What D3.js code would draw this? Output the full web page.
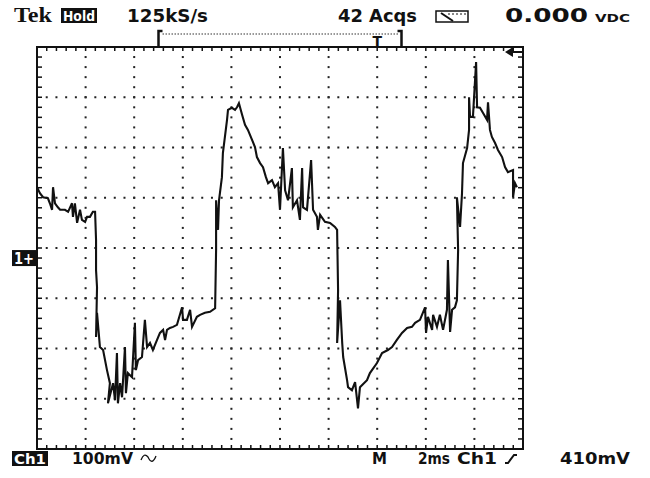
<!DOCTYPE html>
<html>

<style>
    body {
        margin: 0;
        background: #fff;
    }

    text {
        font-family: "DejaVu Sans", sans-serif;
        font-weight: bold;
        fill: #111;
    }

    text.inv {
        fill: #fff;
    }
</style>

<body>
    <svg id='viz' width='650' height='478'></svg>

<script src="https://cdnjs.cloudflare.com/ajax/libs/d3/7.8.5/d3.min.js"></script>

<script>
    // screen settings: 2 ms/div, 100 mV/div, trigger at t = 0
    var timeDomain = [-14, 6];      // ms
    var voltDomain = [-380, 420];   // mV, relative to ch1 ground
    var triggerLevel = 410;         // mV
    var recordWindow = [-9, 1];     // ms, bracket at the top

    var headerLabels = ['125kS/s', '42 Acqs', '0.000', 'VDC'];
    var footerLabels = ['100mV', 'M', '2ms', 'Ch1', '410mV'];

    // acquired trace [time ms, mV]
    var trace = [
        [-14.00, 141], [-13.88, 129], [-13.75, 121], [-13.55, 119], [-13.47, 109], [-13.38, 96],
        [-13.34, 141], [-13.26, 109], [-13.14, 101], [-13.05, 96], [-12.85, 96], [-12.72, 92],
        [-12.56, 109], [-12.52, 82], [-12.44, 109], [-12.35, 70], [-12.23, 96], [-12.15, 76],
        [-12.02, 72], [-11.94, 82], [-11.82, 82], [-11.70, 92], [-11.61, 92], [-11.57, 36],
        [-11.57, -24], [-11.53, -58], [-11.57, -157], [-11.53, -109], [-11.41, -177], [-11.28, -183],
        [-11.12, -223], [-11.00, -249], [-11.08, -289], [-10.87, -249], [-10.79, -283], [-10.71, -189],
        [-10.67, -289], [-10.58, -249], [-10.50, -277], [-10.38, -177], [-10.34, -269], [-10.26, -229],
        [-10.09, -237], [-9.97, -129], [-9.93, -223], [-9.84, -203], [-9.68, -197], [-9.56, -123],
        [-9.47, -177], [-9.35, -169], [-9.23, -183], [-9.06, -163], [-8.94, -149], [-8.81, -143],
        [-8.73, -163], [-8.65, -143], [-8.53, -139], [-8.40, -137], [-8.24, -133], [-8.03, -98],
        [-7.99, -123], [-7.83, -123], [-7.70, -103], [-7.62, -137], [-7.42, -117], [-7.29, -113],
        [-7.09, -109], [-6.88, -107], [-6.67, -100], [-6.63, 16], [-6.63, 115], [-6.55, 56],
        [-6.51, 115], [-6.39, 161], [-6.35, 209], [-6.18, 275], [-6.14, 295], [-5.98, 299],
        [-5.85, 295], [-5.77, 300], [-5.69, 308], [-5.56, 285], [-5.44, 265], [-5.32, 255],
        [-5.15, 235], [-5.03, 221], [-4.95, 201], [-4.82, 189], [-4.70, 181], [-4.58, 161],
        [-4.49, 149], [-4.33, 155], [-4.21, 141], [-4.08, 149], [-4.00, 96], [-3.88, 219],
        [-3.79, 135], [-3.67, 115], [-3.51, 179], [-3.47, 101], [-3.30, 115], [-3.18, 76],
        [-3.09, 179], [-3.05, 101], [-2.89, 96], [-2.72, 195], [-2.64, 96], [-2.48, 82],
        [-2.44, 56], [-2.35, 86], [-2.15, 72], [-1.94, 70], [-1.74, 62], [-1.65, 56],
        [-1.61, -64], [-1.65, -169], [-1.53, -84], [-1.44, -169], [-1.40, -197], [-1.24, -243],
        [-1.20, -257], [-1.04, -263], [-0.91, -247], [-0.79, -299], [-0.71, -257], [-0.42, -243],
        [-0.30, -229], [-0.01, -209], [0.20, -189], [0.44, -183], [0.61, -177], [0.81, -163],
        [1.02, -149], [1.23, -139], [1.43, -137], [1.56, -129], [1.76, -123], [1.97, -98],
        [2.01, -149], [2.09, -117], [2.26, -143], [2.30, -113], [2.46, -137], [2.58, -113],
        [2.71, -143], [2.87, -103], [2.91, -4], [3.00, -147], [3.08, -103], [3.20, -98],
        [3.28, -84], [3.33, 16], [3.28, 121], [3.41, 62], [3.49, 129], [3.53, 189],
        [3.70, 219], [3.78, 255], [3.78, 320], [3.82, 281], [3.94, 281], [4.07, 390],
        [4.11, 300], [4.23, 299], [4.35, 289], [4.52, 275], [4.56, 310], [4.64, 255],
        [4.72, 241], [4.85, 229], [4.97, 215], [5.14, 201], [5.26, 181], [5.38, 171],
        [5.59, 175], [5.59, 121], [5.67, 149], [5.75, 141]
    ];

    var svg = d3.select('#viz');

    var x = d3.scaleLinear().domain(timeDomain).range([37, 523]);
    var y = d3.scaleLinear().domain(voltDomain).range([449, 47]);

    var minorT = d3.range(1, 50).map(function(i) { return timeDomain[0] + i * 0.4; });
    var minorV = d3.range(1, 40).map(function(i) { return voltDomain[0] + i * 20; });
    var majorT = d3.range(-12, 5, 2);
    var majorV = d3.range(-280, 400, 100);

    // dotted graticule
    var grid = svg.append('g').attr('fill', '#222');
    majorV.forEach(function(v) {
        grid.selectAll(null).data(minorT).enter()
            .append('rect')
            .attr('x', function(t) { return x(t) - 1; })
            .attr('y', y(v) - 1)
            .attr('width', 2).attr('height', 2);
    });
    majorT.forEach(function(t) {
        grid.selectAll(null).data(minorV).enter()
            .append('rect')
            .attr('x', x(t) - 1)
            .attr('y', function(v) { return y(v) - 1; })
            .attr('width', 2).attr('height', 2);
    });

    // frame + minor ticks on each edge
    svg.append('rect')
        .attr('x', x(timeDomain[0])).attr('y', y(voltDomain[1]))
        .attr('width', x(timeDomain[1]) - x(timeDomain[0]))
        .attr('height', y(voltDomain[0]) - y(voltDomain[1]))
        .attr('fill', 'none').attr('stroke', '#111').attr('stroke-width', 2);

    var ticks = svg.append('g').attr('stroke', '#111').attr('stroke-width', 1.5);
    minorT.forEach(function(t) {
        ticks.append('line').attr('x1', x(t)).attr('x2', x(t)).attr('y1', 47).attr('y2', 51);
        ticks.append('line').attr('x1', x(t)).attr('x2', x(t)).attr('y1', 449).attr('y2', 445);
    });
    minorV.forEach(function(v) {
        ticks.append('line').attr('y1', y(v)).attr('y2', y(v)).attr('x1', 37).attr('x2', 42);
        ticks.append('line').attr('y1', y(v)).attr('y2', y(v)).attr('x1', 523).attr('x2', 518);
    });

    // the trace
    var line = d3.line()
        .x(function(d) { return x(d[0]); })
        .y(function(d) { return y(d[1]); });

    svg.append('path')
        .datum(trace)
        .attr('d', line)
        .attr('fill', 'none')
        .attr('stroke', '#111')
        .attr('stroke-width', 2.1)
        .attr('stroke-linejoin', 'miter');

    // record window bracket with trigger "T"
    var bx0 = x(recordWindow[0]), bx1 = x(recordWindow[1]);
    svg.append('path')
        .attr('d', 'M' + (bx0 + 4) + ',31 H' + bx0 + ' V46 M' + (bx1 - 4) + ',31 H' + bx1 + ' V46')
        .attr('fill', 'none').attr('stroke', '#111').attr('stroke-width', 2.5);
    svg.append('line')
        .attr('x1', bx0 + 4).attr('x2', bx1 - 3).attr('y1', 34).attr('y2', 34)
        .attr('stroke', '#333').attr('stroke-width', 1).attr('stroke-dasharray', '1.5,1.5');
    svg.append('text').attr('x', x(0)).attr('y', 46)
        .attr('text-anchor', 'middle').style('font-size', '14px').text('T');

    // trigger level arrow on the right edge
    var ty = y(triggerLevel);
    svg.append('path')
        .attr('d', 'M505,' + ty + ' L513,' + (ty - 5) + ' L513,' + (ty + 5) + ' Z')
        .attr('fill', '#111');
    svg.append('line').attr('x1', 512).attr('x2', 523).attr('y1', ty).attr('y2', ty)
        .attr('stroke', '#111').attr('stroke-width', 2);

    // ground marker "1+"
    svg.append('rect').attr('x', 12).attr('y', y(0) - 8).attr('width', 24).attr('height', 16).attr('fill', '#111');
    svg.append('text').attr('class', 'inv').attr('x', 14).attr('y', y(0) + 6)
        .attr('textLength', 20).attr('lengthAdjust', 'spacingAndGlyphs')
        .style('font-size', '15px').text('1+');

    // header
    svg.append('text').attr('x', 14).attr('y', 22)
        .attr('textLength', 38).attr('lengthAdjust', 'spacingAndGlyphs')
        .style('font-family', '"Liberation Serif", serif').style('font-size', '21px').text('Tek');
    svg.append('rect').attr('x', 61).attr('y', 8).attr('width', 36).attr('height', 15).attr('fill', '#111');
    svg.append('text').attr('class', 'inv').attr('x', 63).attr('y', 21)
        .attr('textLength', 32).attr('lengthAdjust', 'spacingAndGlyphs')
        .style('font-size', '14px').text('Hold');

    var headerPos = [[127, 81, 17], [338, 79, 17], [505, 83, 19], [595, 35, 11]];
    headerLabels.forEach(function(s, i) {
        svg.append('text').attr('x', headerPos[i][0]).attr('y', 22)
            .attr('textLength', headerPos[i][1]).attr('lengthAdjust', 'spacingAndGlyphs')
            .style('font-size', headerPos[i][2] + 'px').text(s);
    });

    // meter icon
    svg.append('rect').attr('x', 436).attr('y', 11).attr('width', 32).attr('height', 11)
        .attr('fill', 'none').attr('stroke', '#111').attr('stroke-width', 1.5);
    svg.append('path').attr('d', 'M441,13 L453,21').attr('stroke', '#111').attr('stroke-width', 2);
    svg.append('path').attr('d', 'M448,14 H466').attr('stroke', '#111').attr('stroke-width', 1)
        .attr('stroke-dasharray', '2,2');

    // footer
    svg.append('rect').attr('x', 12).attr('y', 451).attr('width', 36).attr('height', 15).attr('fill', '#111');
    svg.append('text').attr('class', 'inv').attr('x', 14).attr('y', 464)
        .attr('textLength', 32).attr('lengthAdjust', 'spacingAndGlyphs')
        .style('font-size', '14px').text('Ch1');

    var footerPos = [[72, 61], [372, 15], [418, 32], [457, 40], [560, 70]];
    footerLabels.forEach(function(s, i) {
        svg.append('text').attr('x', footerPos[i][0]).attr('y', 464)
            .attr('textLength', footerPos[i][1]).attr('lengthAdjust', 'spacingAndGlyphs')
            .style('font-size', '15px').text(s);
    });

    // AC coupling squiggle and rising slope glyph
    svg.append('path').attr('d', 'M141,460 Q144,452 148,457 Q152,466 156,456')
        .attr('fill', 'none').attr('stroke', '#111').attr('stroke-width', 1.3);
    svg.append('path').attr('d', 'M505,463 H508 L514,455 H517')
        .attr('fill', 'none').attr('stroke', '#111').attr('stroke-width', 2);
</script>
</body>
</html>
